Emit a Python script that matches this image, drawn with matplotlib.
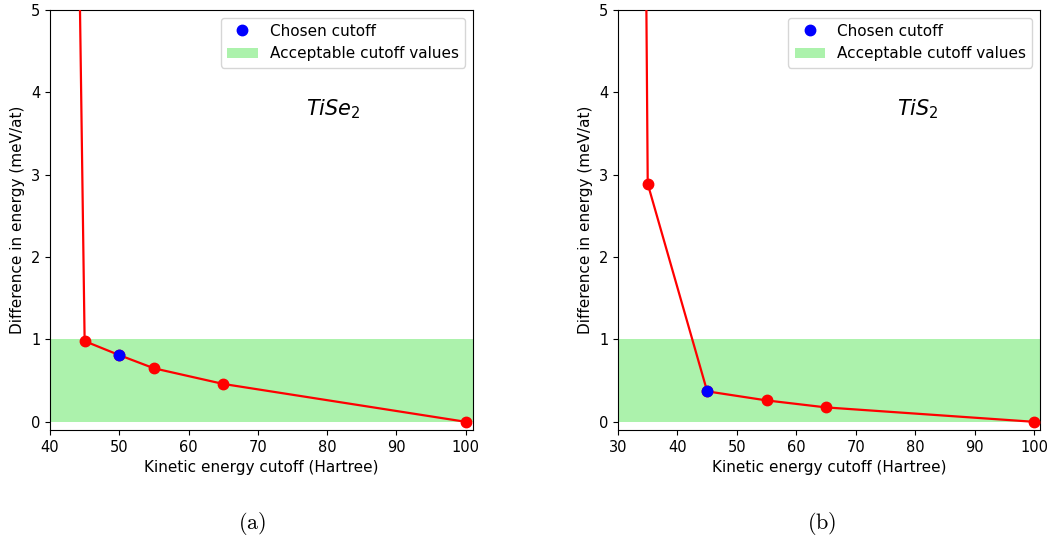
import matplotlib
matplotlib.use("Agg")
import matplotlib.pyplot as plt

# Convergence of total energy vs plane-wave kinetic energy cutoff
cutoff_tise2 = [40, 45, 50, 55, 65, 100]
diff_tise2 = [31.0, 0.98, 0.81, 0.65, 0.46, 0.0]
chosen_tise2 = 50

cutoff_tis2 = [30, 35, 45, 55, 65, 100]
diff_tis2 = [50.0, 2.89, 0.37, 0.26, 0.175, 0.0]
chosen_tis2 = 45

accept_threshold = 1.0
xticks_a = [40, 50, 60, 70, 80, 90, 100]
xticks_b = [30, 40, 50, 60, 70, 80, 90, 100]
yticks = [0, 1, 2, 3, 4, 5]

plt.rcParams['mathtext.fontset'] = 'dejavusans'

fig = plt.figure(figsize=(10.48, 5.43), dpi=100)
ax_a = fig.add_axes([0.0477, 0.208, 0.4033, 0.7735])
ax_b = fig.add_axes([0.5897, 0.208, 0.4027, 0.7735])


def draw(ax, x, y, chosen, xmin, xticks, label):
    ax.axhspan(0, accept_threshold, color='lightgreen', alpha=0.75, lw=0,
               label='Acceptable cutoff values')
    ax.plot(x, y, color='red', marker='o', markersize=7.5, lw=1.6, zorder=3)
    ax.plot([chosen], [y[x.index(chosen)]], 'o', color='blue', markersize=7.5,
            zorder=4, label='Chosen cutoff')
    ax.set_xlim(xmin, 101)
    ax.set_ylim(-0.1, 5)
    ax.set_xticks(xticks)
    ax.set_yticks(yticks)
    ax.tick_params(labelsize=10.5)
    ax.set_xlabel('Kinetic energy cutoff (Hartree)', fontsize=11)
    ax.set_ylabel('Difference in energy (meV/at)', fontsize=11)
    h, l = ax.get_legend_handles_labels()
    ax.legend(h[::-1], l[::-1], loc='upper right', fontsize=11)
    ax.text(77, 3.8, label, fontsize=15, ha='left', va='center')


draw(ax_a, cutoff_tise2, diff_tise2, chosen_tise2, 40, xticks_a, r'$TiSe_2$')
draw(ax_b, cutoff_tis2, diff_tis2, chosen_tis2, 30, xticks_b, r'$TiS_2$')

fig.text(0.2410, 0.035, r'$\mathrm{(a)}$', fontsize=16, ha='center',
         va='center', math_fontfamily='cm')
fig.text(0.7840, 0.035, r'$\mathrm{(b)}$', fontsize=16, ha='center',
         va='center', math_fontfamily='cm')

fig.savefig('out.png', dpi=100)
